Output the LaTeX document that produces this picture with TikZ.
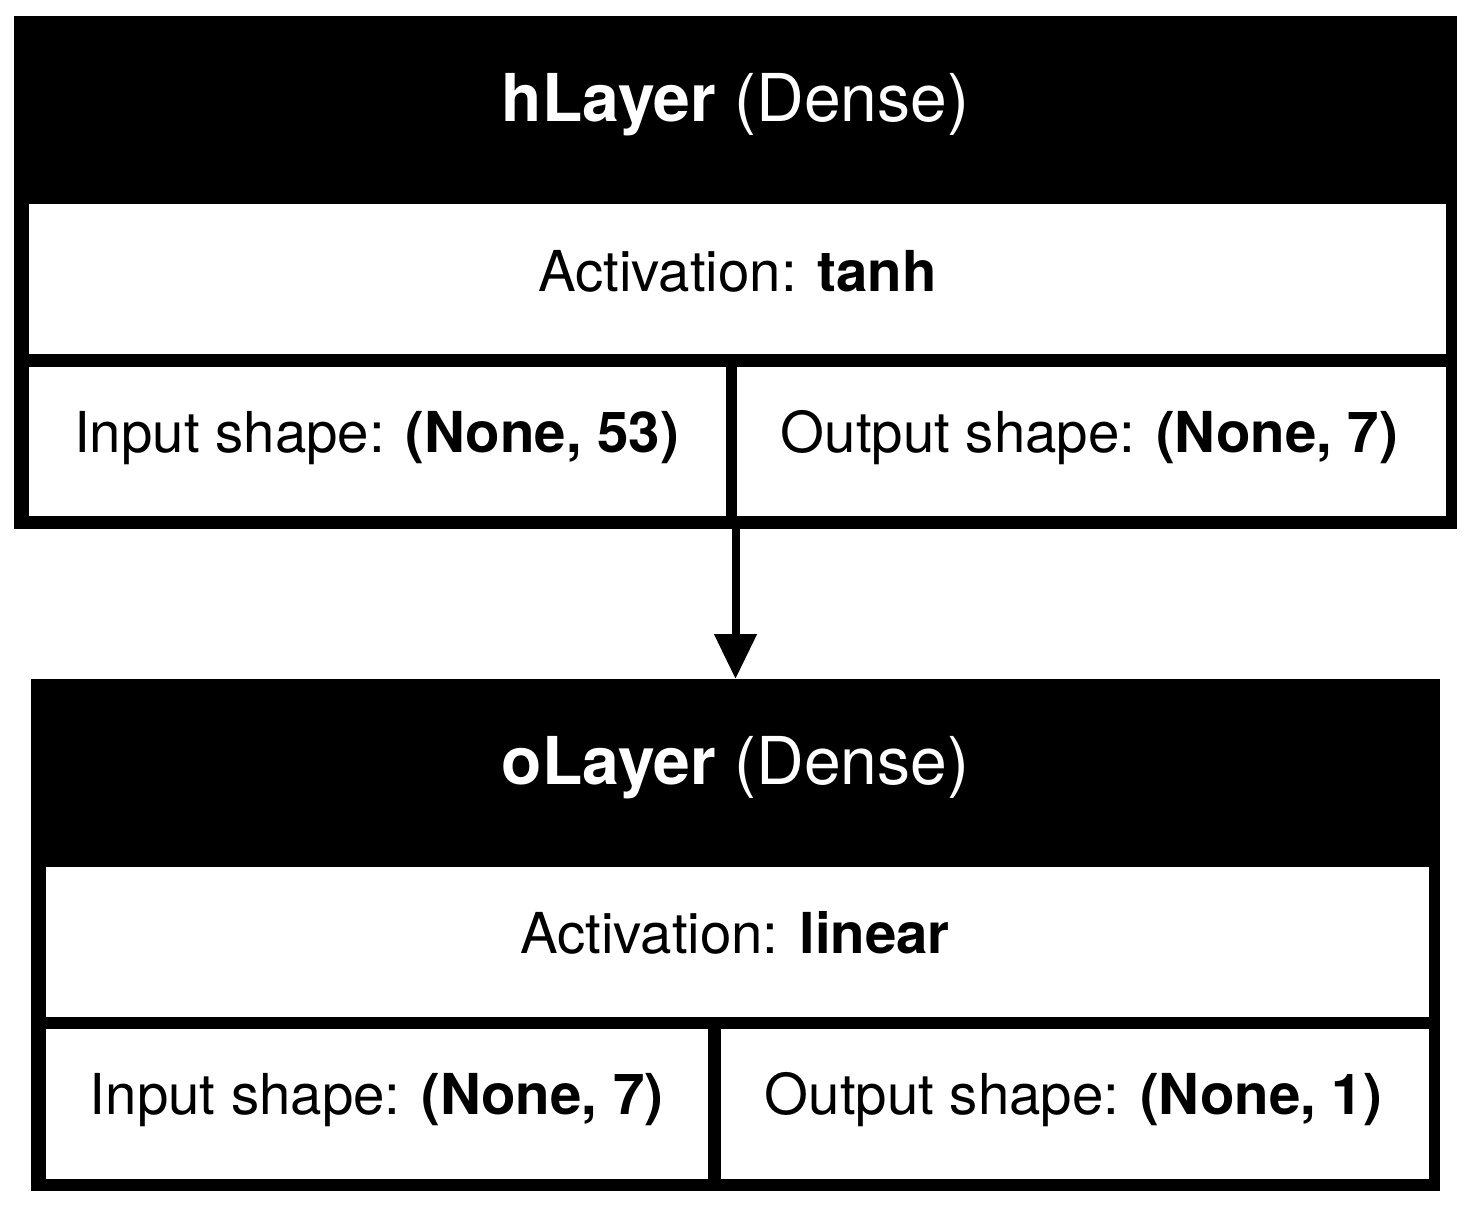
\documentclass[tikz,border=0pt]{standalone}
\usepackage{fontspec}
\setmainfont{TeX Gyre Heros}
\usetikzlibrary{arrows.meta}
\begin{document}
\begin{tikzpicture}[x=0.5pt,y=-0.5pt,
  layerbox/.style={fill=black, draw=none, inner sep=0pt, outer sep=0pt},
  cell/.style={fill=white, draw=none, inner sep=0pt, outer sep=0pt, minimum height=75pt},
  headtext/.style={text=white, inner sep=0pt, anchor=base, font=\fontsize{33}{40}\selectfont},
  celltext/.style={inner sep=0pt, anchor=base, font=\fontsize{28.2}{34}\selectfont},
  flow/.style={line width=4pt, -{Triangle[length=22.5pt,width=20.5pt]}}]
\useasboundingbox[fill=white] (0,0) rectangle (1471,1208);

% hidden layer
\node[layerbox, minimum width=721.5pt, minimum height=256.5pt] (hLayer) at (735.5,272.5) {};
\node[cell, minimum width=708.5pt] (hAct) at (737.5,279) {};
\node[cell, minimum width=348.35pt, minimum height=74.5pt] (hIn) at (377.35,441.5) {};
\node[cell, minimum width=354.35pt, minimum height=74.5pt] (hOut) at (1091.65,441.5) {};
\node[headtext] (hTitle) at (735.5,121.7) {\textbf{hLayer} (Dense)};
\node[celltext] (hActText) at (737.5,291.7) {Activation: \textbf{tanh}};
\node[celltext] (hInText) at (376.5,452) {Input shape: \textbf{(None, 53)}};
\node[celltext] (hOutText) at (1089.5,452) {Output shape: \textbf{(None, 7)}};

% output layer
\node[layerbox, minimum width=704.5pt, minimum height=256pt] (oLayer) at (735.5,935) {};
\node[cell, minimum width=691.5pt] (oAct) at (737.5,942) {};
\node[cell, minimum width=331pt] (oIn) at (377,1104) {};
\node[cell, minimum width=354pt] (oOut) at (1075,1104) {};
\node[headtext] (oTitle) at (735.5,784.5) {\textbf{oLayer} (Dense)};
\node[celltext] (oActText) at (735,953.3) {Activation: \textbf{linear}};
\node[celltext] (oInText) at (376.5,1114) {Input shape: \textbf{(None, 7)}};
\node[celltext] (oOutText) at (1073.5,1114) {Output shape: \textbf{(None, 1)}};

\draw[flow] (hLayer.south) -- (oLayer.north);
\end{tikzpicture}
\end{document}
